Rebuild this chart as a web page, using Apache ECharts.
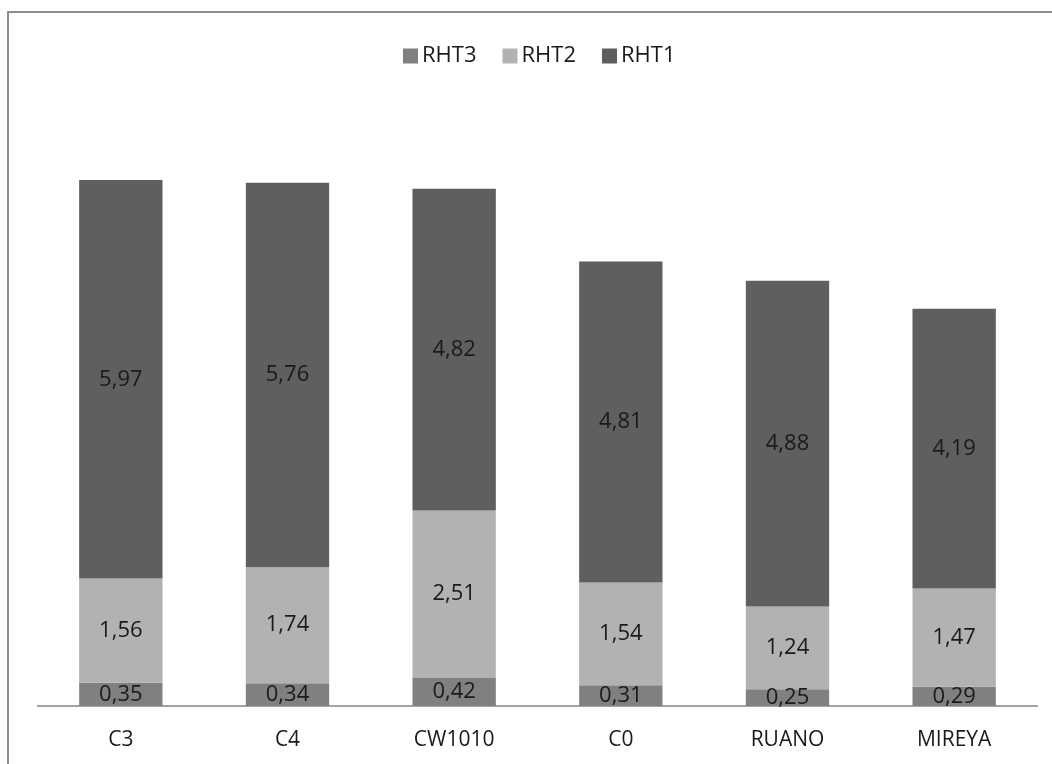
<!DOCTYPE html>
<html>
<head>
<meta charset="utf-8">
<script src="https://cdn.jsdelivr.net/npm/echarts@6/dist/echarts.min.js"></script>
<style>
html,body{margin:0;padding:0;background:#fff;}
#frame{position:absolute;left:7px;top:11px;width:1060px;height:770px;border:2px solid #8c8c8c;box-sizing:border-box;}
#chart{position:absolute;left:0;top:0;width:1052px;height:764px;}
</style>
</head>
<body>
<div id="frame"></div>
<div id="chart"></div>
<script>
var categories = ['C3', 'C4', 'CW1010', 'C0', 'RUANO', 'MIREYA'];
var rht3 = [0.35, 0.34, 0.42, 0.31, 0.25, 0.29];
var rht2 = [1.56, 1.74, 2.51, 1.54, 1.24, 1.47];
var rht1 = [5.97, 5.76, 4.82, 4.81, 4.88, 4.19];

var fontFam = '"Open Sans", "Noto Sans", sans-serif';
function fmt(p){ return String(p.value.toFixed(2)).replace('.', ','); }
function mk(name, data, color){
  return {
    name: name, type: 'bar', stack: 'total', data: data, barWidth: '50%',
    itemStyle: {color: color},
    label: {show: true, position: 'inside', formatter: fmt, color: '#1a1a1a', fontSize: 22, fontFamily: fontFam},
    emphasis: {disabled: true}
  };
}
var chart = echarts.init(document.getElementById('chart'));
chart.setOption({
  animation: false,
  backgroundColor: 'transparent',
  legend: {
    top: 45, left: 403, itemWidth: 15, itemHeight: 15, itemGap: 26,
    icon: 'rect', padding: 0,
    textStyle: {fontSize: 22, color: '#1a1a1a', fontFamily: fontFam, padding: [0, 0, 0, -1]},
    data: ['RHT3', 'RHT2', 'RHT1']
  },
  grid: {left: 37.5, right: 14.5, top: 172, bottom: 58, containLabel: false},
  xAxis: {
    type: 'category', data: categories,
    axisLine: {lineStyle: {color: '#868686', width: 1.5}},
    axisTick: {show: false},
    axisLabel: {fontSize: 21, color: '#1a1a1a', margin: 24, fontFamily: fontFam}
  },
  yAxis: {type: 'value', min: 0, max: 8, show: false, splitLine: {show: false}},
  series: [
    mk('RHT3', rht3, '#808080'),
    mk('RHT2', rht2, '#b2b2b2'),
    mk('RHT1', rht1, '#5f5f5f')
  ]
});
</script>
</body>
</html>
